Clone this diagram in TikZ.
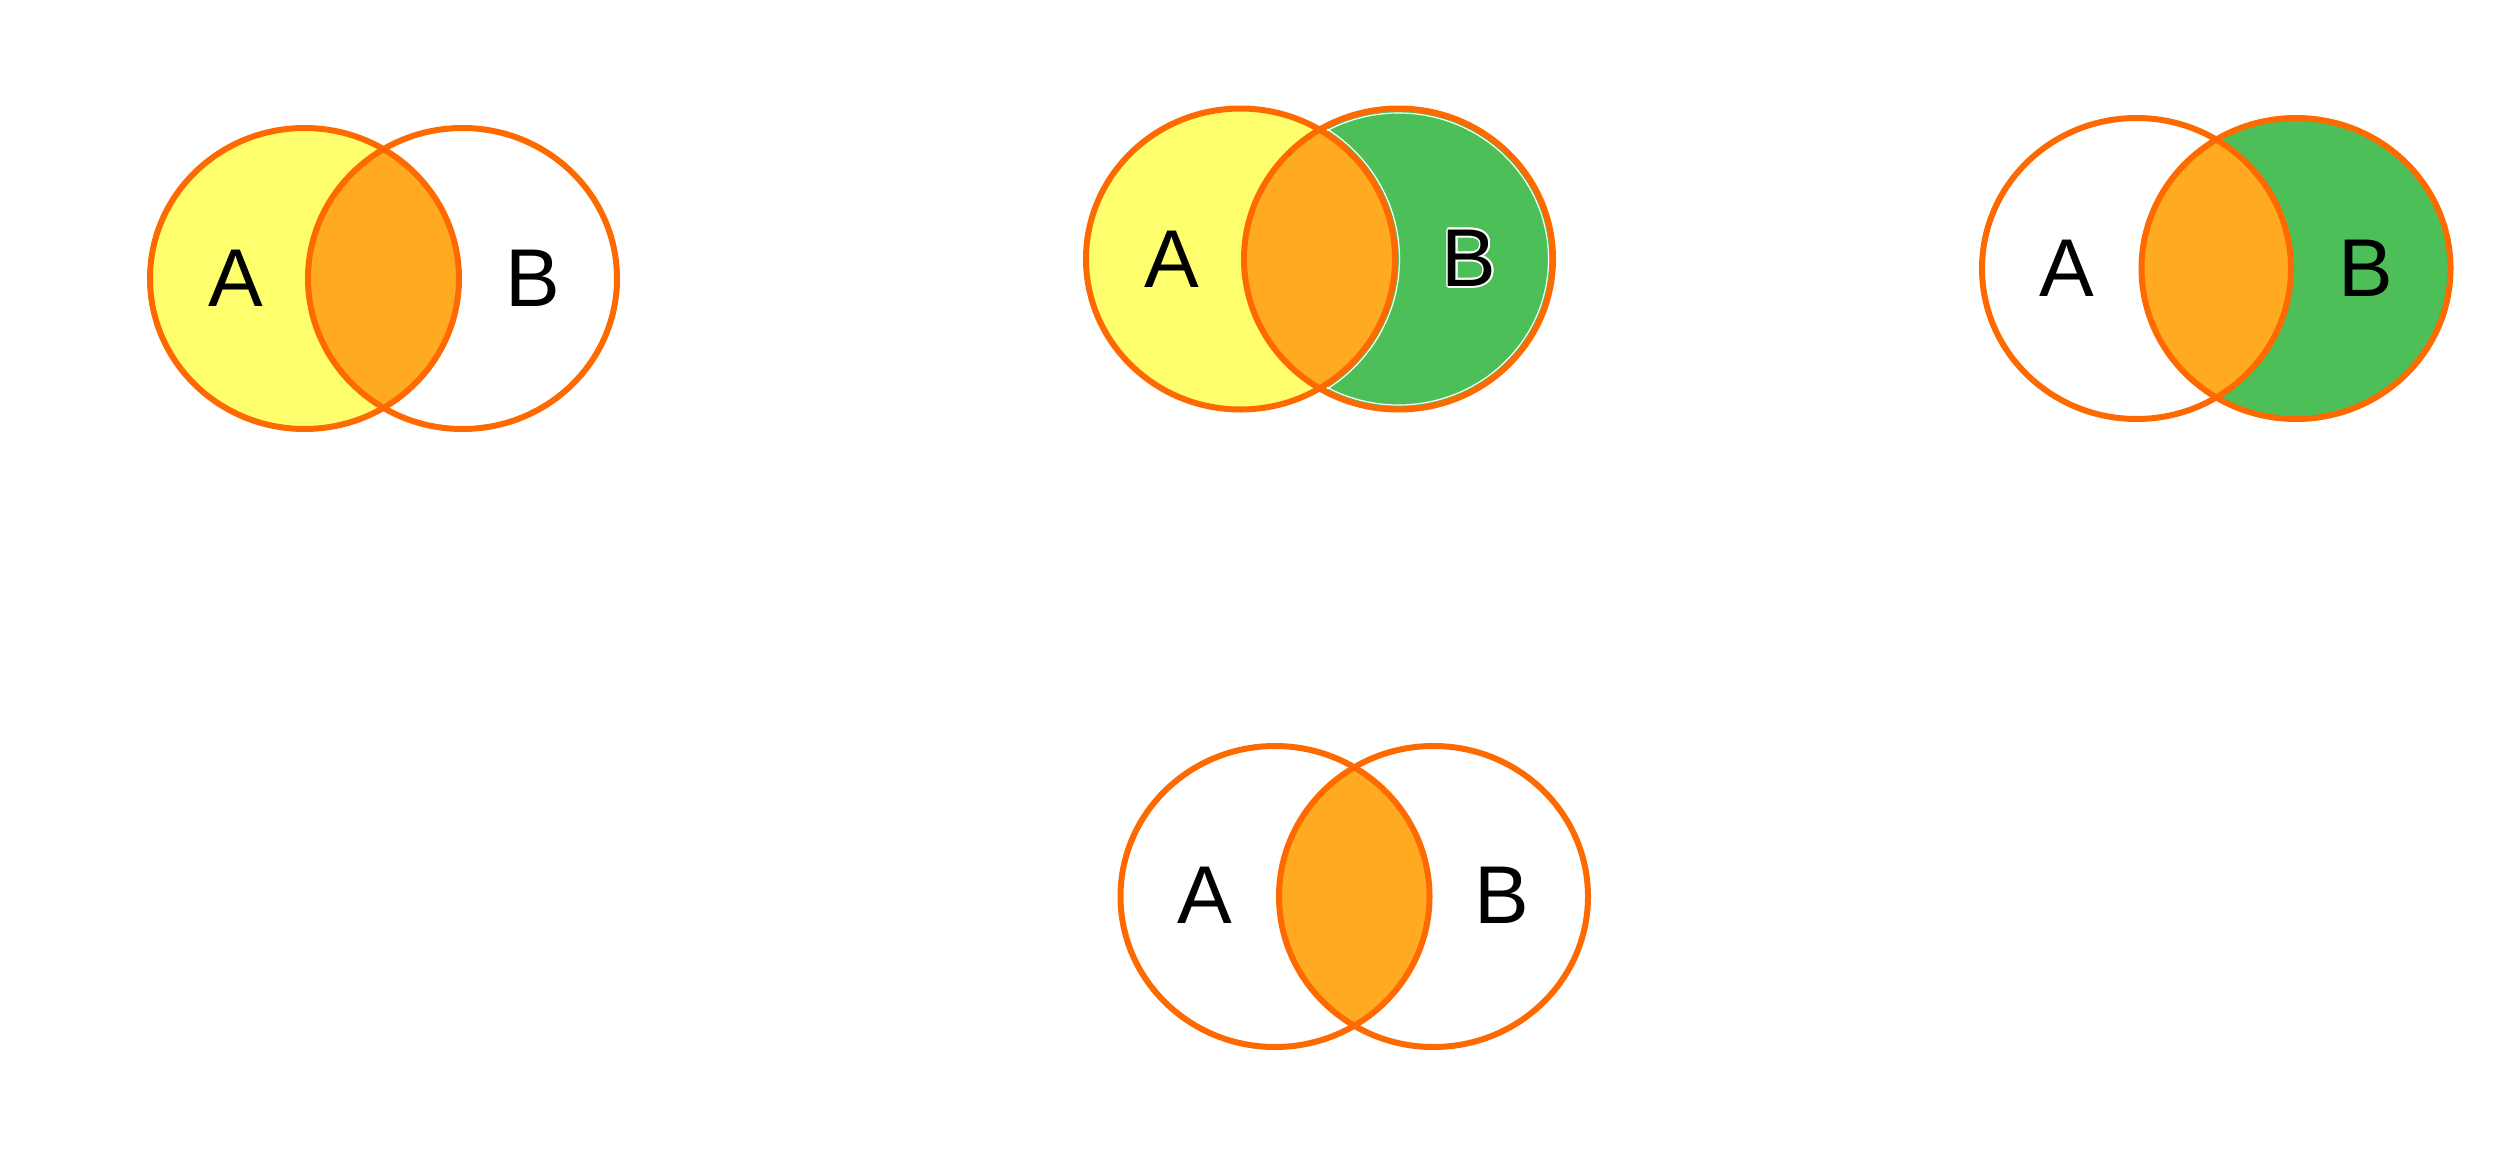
\documentclass[tikz,border=0pt]{standalone}
\usepackage{fontspec}
\setmainfont{Liberation Sans}
\usepackage{contour}
\contourlength{1.6pt}
\definecolor{vstroke}{HTML}{FF6A00}
\definecolor{vyellow}{HTML}{FFFF6E}
\definecolor{vlens}{HTML}{FFAA20}
\definecolor{vgreen}{HTML}{4CBF59}
\begin{document}
\begin{tikzpicture}[x=1pt,y=-1pt,
  ring/.style={draw=vstroke,line width=6pt},
  lbl/.style={font=\fontsize{82}{90}\selectfont,inner sep=0pt,text=black}]
\useasboundingbox[fill=white] (0,0) rectangle (2500,1167);
\def\rx{154.5}\def\ry{150.5}
% ---------- diagram 1: A filled ----------
\coordinate (a1) at (304.5,278.5);
\coordinate (b1) at (462.5,278.5);
\fill[vyellow] (a1) ellipse[x radius=\rx,y radius=\ry];
\begin{scope}
  \clip (a1) ellipse[x radius=\rx,y radius=\ry];
  \fill[vlens] (b1) ellipse[x radius=\rx,y radius=\ry];
\end{scope}
\draw[ring] (a1) ellipse[x radius=\rx,y radius=\ry];
\draw[ring] (b1) ellipse[x radius=\rx,y radius=\ry];
\node[lbl] (la1) at (236,278) {A};
\node[lbl] (lb1) at (533,278) {B};
% ---------- diagram 2: A and B filled ----------
\coordinate (a2) at (1240.5,259);
\coordinate (b2) at (1398.5,259);
\fill[vyellow] (a2) ellipse[x radius=\rx,y radius=\ry];
\fill[vgreen] (b2) ellipse[x radius=\rx,y radius=\ry];
\draw[white,line width=1.2pt] (b2) ellipse[x radius=\rx-4.5,y radius=\ry-4.5];
\begin{scope}
  \clip (b2) ellipse[x radius=\rx,y radius=\ry];
  \draw[white,line width=1.2pt] (a2) ellipse[x radius=\rx+4.5,y radius=\ry+4.5];
\end{scope}
\begin{scope}
  \clip (a2) ellipse[x radius=\rx,y radius=\ry];
  \fill[vlens] (b2) ellipse[x radius=\rx,y radius=\ry];
\end{scope}
\draw[ring] (a2) ellipse[x radius=\rx,y radius=\ry];
\draw[ring] (b2) ellipse[x radius=\rx,y radius=\ry];
\node[lbl] (la2) at (1172,259) {A};
\node[lbl] (lb2) at (1469,259) {\contour{white}{B}};
% ---------- diagram 3: B filled ----------
\coordinate (a3) at (2136.5,268.5);
\coordinate (b3) at (2296,268.5);
\fill[vgreen] (b3) ellipse[x radius=\rx,y radius=\ry];
\begin{scope}
  \clip (a3) ellipse[x radius=\rx,y radius=\ry];
  \fill[vlens] (b3) ellipse[x radius=\rx,y radius=\ry];
\end{scope}
\draw[ring] (a3) ellipse[x radius=\rx,y radius=\ry];
\draw[ring] (b3) ellipse[x radius=\rx,y radius=\ry];
\node[lbl] (la3) at (2067,268) {A};
\node[lbl] (lb3) at (2366,268) {B};
% ---------- diagram 4: intersection only ----------
\coordinate (a4) at (1275,896.5);
\coordinate (b4) at (1433.5,896.5);
\begin{scope}
  \clip (a4) ellipse[x radius=\rx,y radius=\ry];
  \fill[vlens] (b4) ellipse[x radius=\rx,y radius=\ry];
\end{scope}
\draw[ring] (a4) ellipse[x radius=\rx,y radius=\ry];
\draw[ring] (b4) ellipse[x radius=\rx,y radius=\ry];
\node[lbl] (la4) at (1205,895) {A};
\node[lbl] (lb4) at (1502,895) {B};
\end{tikzpicture}
\end{document}
